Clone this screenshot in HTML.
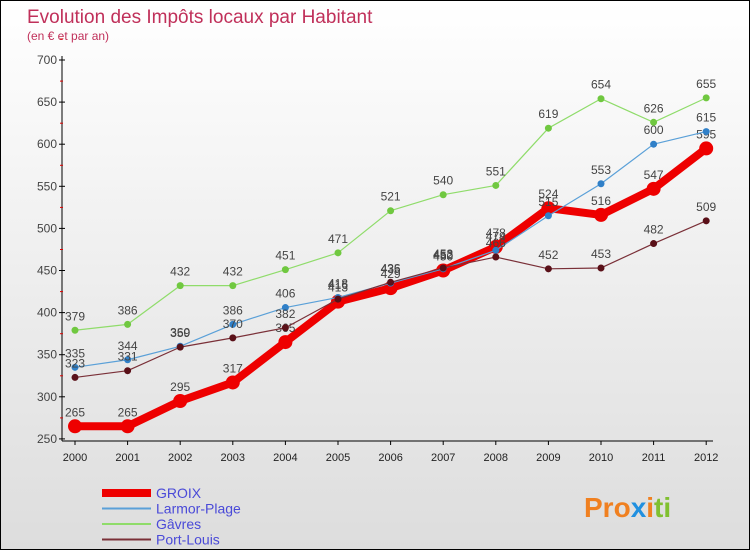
<!DOCTYPE html>
<html><head><meta charset="utf-8"><style>
body{margin:0;width:750px;height:550px;overflow:hidden;font-family:"Liberation Sans",sans-serif}
#wrap{position:relative;width:748px;height:548px;border:1px solid #000;background:linear-gradient(#fff,#ddd)}
</style></head><body>
<div id="wrap">
<svg id="chart" width="748" height="548">
<text x="26" y="22" font-size="19" fill="#c0305a">Evolution des Impôts locaux par Habitant</text>
<text x="26" y="39" font-size="12" fill="#c0305a">(en € et par an)</text>
<g id="axes"></g><g id="series"></g><g id="legend"></g>
<text x="583" y="516" font-size="28" font-weight="bold" fill="#f08020">Pro<tspan fill="#2090e0">x</tspan>i<tspan fill="#80c030">ti</tspan></text>
</svg>
</div>
<script>
const years=[2000,2001,2002,2003,2004,2005,2006,2007,2008,2009,2010,2011,2012];
const yTicks=[250,300,350,400,450,500,550,600,650,700];
const groix=[265,265,295,317,365,413,429,450,478,524,516,547,595];
const larmor=[335,344,360,386,406,418,435,452,474,515,553,600,615];
const gavres=[379,386,432,432,451,471,521,540,551,619,654,626,655];
const portLouis=[323,331,359,370,382,416,436,453,466,452,453,482,509];
const NS='http://www.w3.org/2000/svg';
const xs=i=>74+i*52.6;
const ys=v=>59+(700-v)*0.842;
function mk(t,a,p){const e=document.createElementNS(NS,t);for(const k in a)e.setAttribute(k,a[k]);p.appendChild(e);return e;}
const ax=document.getElementById('axes');
let l=mk('line',{x1:61,y1:55,x2:61,y2:440,stroke:'#000'},ax);


l=mk('line',{x1:61,y1:440,x2:712,y2:440,stroke:'#000'},ax);


yTicks.forEach(v=>{const y=ys(v);mk('line',{x1:58,y1:y,x2:64,y2:y,stroke:'#000'},ax);
mk('line',{x1:59,y1:y-21,x2:62,y2:y-21,stroke:'#d00'},ax);
const t=mk('text',{x:56,y:y+4,'font-size':12,fill:'#444','text-anchor':'end'},ax);t.textContent=v;

});
years.forEach((yr,i)=>{const x=xs(i);mk('line',{x1:x,y1:440,x2:x,y2:444,stroke:'#000'},ax);
const t=mk('text',{x:x,y:460,'font-size':11,fill:'#222','text-anchor':'middle'},ax);t.textContent=yr;

});
const S=document.getElementById('series');
const defs=[
 {n:'port-louis',d:portLouis,c:'#7a3038',w:1.2,r:3.5,mc:'#5a1018'},
 {n:'gavres',d:gavres,c:'#8fdc6a',w:1.2,r:3.5,mc:'#70c840'},
 {n:'larmor-plage',d:larmor,c:'#5aa0d8',w:1.2,r:3.5,mc:'#3080c8'},
 {n:'groix',d:groix,c:'#ee0000',w:8,r:7,mc:'#ee0000'}];
defs.slice().reverse().forEach(s=>{
 const g=mk('g',{},S);
 
 
 const p=mk('polyline',{points:s.d.map((v,i)=>xs(i)+','+ys(v)).join(' '),fill:'none',stroke:s.c,'stroke-width':s.w,'stroke-linejoin':'round'},g);
 
 
 s.d.forEach((v,i)=>{const c=mk('circle',{cx:xs(i),cy:ys(v),r:s.r,fill:s.mc},g);
 
 
 const t=mk('text',{x:xs(i),y:ys(v)-10,'font-size':12,fill:'#444','text-anchor':'middle'},g);t.textContent=v;
 
 });
});
const L=document.getElementById('legend');
const leg=[['GROIX','#ee0000',8],['Larmor-Plage','#5aa0d8',2],['Gâvres','#8fdc6a',2],['Port-Louis','#7a3038',2]];
leg.forEach((e,i)=>{const y=492+i*15.5;
 const g=mk('g',{},L);
 
 
 mk('line',{x1:101,y1:y,x2:150,y2:y,stroke:e[1],'stroke-width':e[2]},g);
 const t=mk('text',{x:155,y:y+5,'font-size':14,fill:'#4a4ad8'},g);t.textContent=e[0];});
</script>
</body></html>
